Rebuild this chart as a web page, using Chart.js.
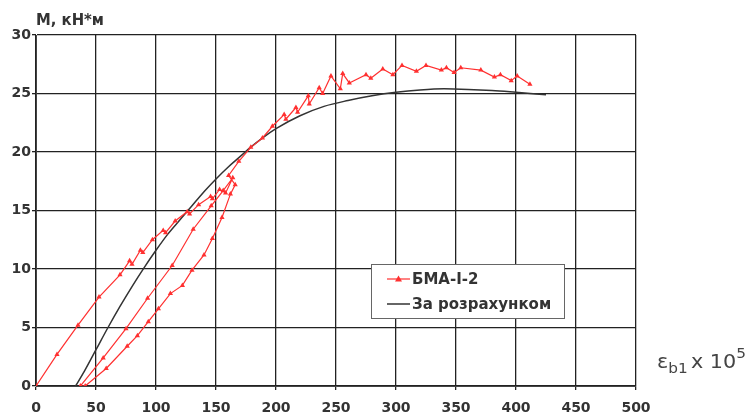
<!DOCTYPE html>
<html>
<head>
<meta charset="utf-8">
<script src="https://cdn.jsdelivr.net/npm/chart.js@4/dist/chart.umd.min.js"></script>
<style>
html,body{margin:0;padding:0;background:#fff;}
#wrap{width:753px;height:417px;position:relative;}
</style>
</head>
<body>
<div id="wrap"><canvas id="c" width="753" height="417"></canvas></div>
<script>
// ---- data ----
const expName = "БМА-I-2";
const calcName = "За розрахунком";
const yTitle = "M, кН*м";
const xTickValues = [0,50,100,150,200,250,300,350,400,450,500];
const yTickValues = [0,5,10,15,20,25,30];

// experimental path (strain x 10^5, moment kN*m)
const expX = [0,17.5,35,52.5,70,78,80,87,89,97,106,108,116,126,128,135.5,145.5,147,153,158,164,
  156,146,131,113.5,93,75,56,37,
  41,58.5,76,84.5,93.6,102,112,122,130,140,147,155,162,166,160.5,169,179,188.7,197,206.8,208.2,216.6,218,226.9,227.7,236,238.9,245.8,253.6,255.6,261.1,275,279,289,297.4,305,317,325,337.8,342,348.4,354,370.7,382,387,396,401,411.6];
const expY = [0,2.7,5.2,7.6,9.5,10.7,10.4,11.6,11.4,12.5,13.3,13.1,14.1,14.9,14.7,15.5,16.2,16.0,16.8,16.5,17.8,
  16.7,15.4,13.4,10.3,7.5,4.9,2.4,0,
  0,1.5,3.4,4.3,5.5,6.6,7.9,8.6,9.9,11.2,12.6,14.4,16.4,17.2,18.0,19.2,20.4,21.2,22.2,23.2,22.8,23.8,23.4,24.8,24.1,25.5,25.0,26.5,25.4,26.7,25.9,26.6,26.3,27.1,26.6,27.4,26.9,27.4,27.0,27.2,26.8,27.2,27.0,26.4,26.6,26.1,26.5,25.8];

// calculated curve
const calcX = [33,40,50,60,70,80,90,100,110,120,130,140,150,160,170,180,190,200,220,240,260,280,300,320,340,360,380,400,425];
const calcY = [0,1.2,3.1,5.0,6.8,8.5,10.1,11.6,13.0,14.2,15.4,16.6,17.7,18.7,19.6,20.5,21.3,22.0,23.1,23.9,24.4,24.8,25.1,25.3,25.4,25.35,25.25,25.1,24.9];

const expPts = expX.map((x,i)=>({x:x,y:expY[i]}));
const calcPts = calcX.map((x,i)=>({x:x,y:calcY[i]}));

const RED = '#ff3030';
const BLACK = '#333333';

const overlay = {
  id:'overlay',
  afterDraw(chart){
    const ctx = chart.ctx;
    ctx.save();
    ctx.fillStyle = '#333';
    ctx.textBaseline = 'alphabetic';
    // y title (fit into reference width)
    ctx.font = 'bold 15px "DejaVu Sans"';
    ctx.textAlign = 'left';
    const tw = ctx.measureText(yTitle).width;
    ctx.save();
    ctx.translate(36, 25);
    ctx.scale(68 / tw, 1);
    ctx.fillText(yTitle, 0, 0);
    ctx.restore();
    // x title: eps_b1 x 10^5, stretched to reference width
    ctx.fillStyle = '#444';
    const parts = [
      {t:'ε', f:'19px "DejaVu Sans"', dy:0, gap:0},
      {t:'b1', f:'14px "DejaVu Sans"', dy:5, gap:3},
      {t:'x 10', f:'19px "DejaVu Sans"', dy:0, gap:0},
      {t:'5', f:'14px "DejaVu Sans"', dy:-10, gap:0}
    ];
    let natural = 0;
    parts.forEach(p=>{ ctx.font = p.f; p.w = ctx.measureText(p.t).width; natural += p.w + p.gap; });
    const sx = 89 / natural;
    ctx.save();
    ctx.translate(657, 368);
    ctx.scale(sx, 1);
    let x = 0;
    parts.forEach(p=>{ ctx.font = p.f; ctx.fillText(p.t, x, p.dy); x += p.w + p.gap; });
    ctx.restore();
    // legend
    const lx = 371, ly = 264, lw = 193, lh = 54;
    ctx.fillStyle = '#fff';
    ctx.fillRect(lx, ly, lw, lh);
    ctx.strokeStyle = '#666';
    ctx.lineWidth = 1;
    ctx.strokeRect(lx+0.5, ly+0.5, lw, lh);
    const ds = chart.data.datasets;
    const rows = [279, 304];
    ds.forEach((d,i)=>{
      const yy = rows[i];
      ctx.strokeStyle = d.borderColor;
      ctx.lineWidth = d.borderWidth;
      ctx.beginPath(); ctx.moveTo(387, yy); ctx.lineTo(410, yy); ctx.stroke();
      if (d.pointRadius > 0) {
        ctx.fillStyle = d.pointBackgroundColor;
        ctx.beginPath();
        ctx.moveTo(398.5, yy-3.5); ctx.lineTo(402, yy+2.5); ctx.lineTo(395, yy+2.5); ctx.closePath(); ctx.fill();
      }
      ctx.fillStyle = '#333';
      ctx.font = 'bold 15px "DejaVu Sans"';
      ctx.textBaseline = 'middle';
      ctx.fillText(d.label, 412, yy+1);
    });
    ctx.restore();
  }
};

new Chart(document.getElementById('c'), {
  type: 'scatter',
  data: {
    datasets: [
      {label: expName, data: expPts, showLine: true, borderColor: RED, borderWidth: 1.2,
       pointStyle: 'triangle', pointRadius: 3, pointBackgroundColor: RED, pointBorderColor: RED, pointBorderWidth: 0},
      {label: calcName, data: calcPts, showLine: true, borderColor: BLACK, borderWidth: 1.5,
       pointRadius: 0, pointBackgroundColor: BLACK, cubicInterpolationMode: 'monotone'}
    ]
  },
  options: {
    responsive: false,
    animation: false,
    devicePixelRatio: 1,
    layout: {padding: {top: 35, right: 117, left: 0, bottom: 0}},
    plugins: {legend: {display: false}, tooltip: {enabled: false}},
    scales: {
      x: {
        type: 'linear', min: 0, max: 500,
        afterBuildTicks(s){ s.ticks = xTickValues.map(v=>({value:v})); },
        afterFit(s){ s.height = 31; },
        ticks: {color: '#333', font: {family: 'DejaVu Sans', size: 14, weight: 'bold'}, padding: 10, maxRotation: 0, autoSkip: false},
        grid: {color: '#222', lineWidth: 1.3, tickLength: 4, drawTicks: true},
        border: {display: true, color: '#444', width: 1}
      },
      y: {
        type: 'linear', min: 0, max: 30,
        afterBuildTicks(s){ s.ticks = yTickValues.map(v=>({value:v})); },
        afterFit(s){ s.width = 36; },
        ticks: {color: '#333', font: {family: 'DejaVu Sans', size: 14, weight: 'bold'}, padding: 1, autoSkip: false},
        grid: {color: '#222', lineWidth: 1.3, tickLength: 4, drawTicks: true},
        border: {display: true, color: '#444', width: 1}
      }
    }
  },
  plugins: [overlay]
});
</script>
</body>
</html>
